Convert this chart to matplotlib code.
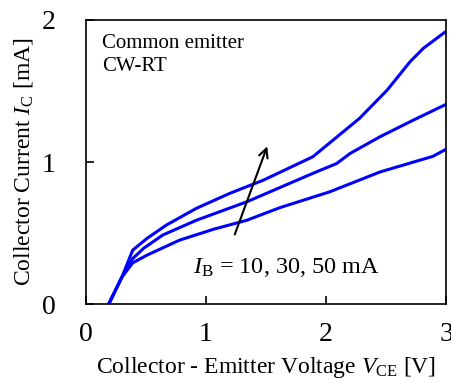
import matplotlib
matplotlib.use("Agg")
import matplotlib.pyplot as plt

plt.rcParams['font.family'] = ['Liberation Serif', 'DejaVu Serif']
plt.rcParams['mathtext.fontset'] = 'custom'
plt.rcParams['mathtext.rm'] = 'Liberation Serif'
plt.rcParams['mathtext.it'] = 'Liberation Serif:italic'

# I-V curves (V_CE [V], I_C [mA])
v_10 = [0.19, 0.30, 0.39, 0.51, 0.78, 1.06, 1.34, 1.62, 2.03, 2.45, 2.89, 3.0]
i_10 = [0.0, 0.19, 0.29, 0.345, 0.45, 0.526, 0.59, 0.68, 0.79, 0.93, 1.04, 1.09]
v_30 = [0.19, 0.30, 0.39, 0.48, 0.64, 0.92, 1.34, 1.89, 2.09, 2.2, 2.45, 2.73, 3.0]
i_30 = [0.0, 0.19, 0.32, 0.392, 0.486, 0.59, 0.72, 0.92, 0.99, 1.06, 1.178, 1.296, 1.406]
v_50 = [0.19, 0.30, 0.39, 0.51, 0.67, 0.92, 1.2, 1.48, 1.89, 2.06, 2.28, 2.51, 2.7, 2.81, 3.0]
i_50 = [0.0, 0.19, 0.38, 0.463, 0.556, 0.674, 0.78, 0.873, 1.037, 1.155, 1.308, 1.507, 1.706, 1.8, 1.92]

arrow_start = (1.24, 0.49)
arrow_end = (1.51, 1.11)

fig = plt.figure(figsize=(4.52, 3.83), dpi=100)
ax = fig.add_axes([0.190, 0.206, 0.797, 0.742])

for v, i in [(v_10, i_10), (v_30, i_30), (v_50, i_50)]:
    ax.plot(v, i, color='#0000ff', lw=2.2, solid_capstyle='butt')

ax.annotate('', xy=arrow_end, xytext=arrow_start,
            arrowprops=dict(arrowstyle='->', color='black', lw=1.5, mutation_scale=16,
                            shrinkA=0, shrinkB=0))

ax.text(0.045, 0.95, 'Common emitter\nCW-RT', transform=ax.transAxes,
        fontsize=15, va='top', ha='left', linespacing=1.3)
ax.text(1.67, 0.26, r'$I_\mathrm{B}$ = 10, 30, 50 mA', fontsize=17.5, ha='center', va='center')

ax.set_xlim(0, 3)
ax.set_ylim(0, 2)
ax.set_xticks([0, 1, 2, 3])
ax.set_yticks([0, 1, 2])
ax.tick_params(direction='in', length=6, width=1.2, labelsize=20, pad=13,
               top=False, right=False)
ax.tick_params(axis='y', pad=22)
for s in ax.spines.values():
    s.set_linewidth(1.2)

ax.set_xlabel(r'Collector - Emitter Voltage $V_\mathrm{CE}$ [V]', fontsize=17, labelpad=6)
ax.set_ylabel(r'Collector Current $I_\mathrm{C}$ [mA]', fontsize=17, labelpad=5)

fig.savefig('out.png', dpi=100)
